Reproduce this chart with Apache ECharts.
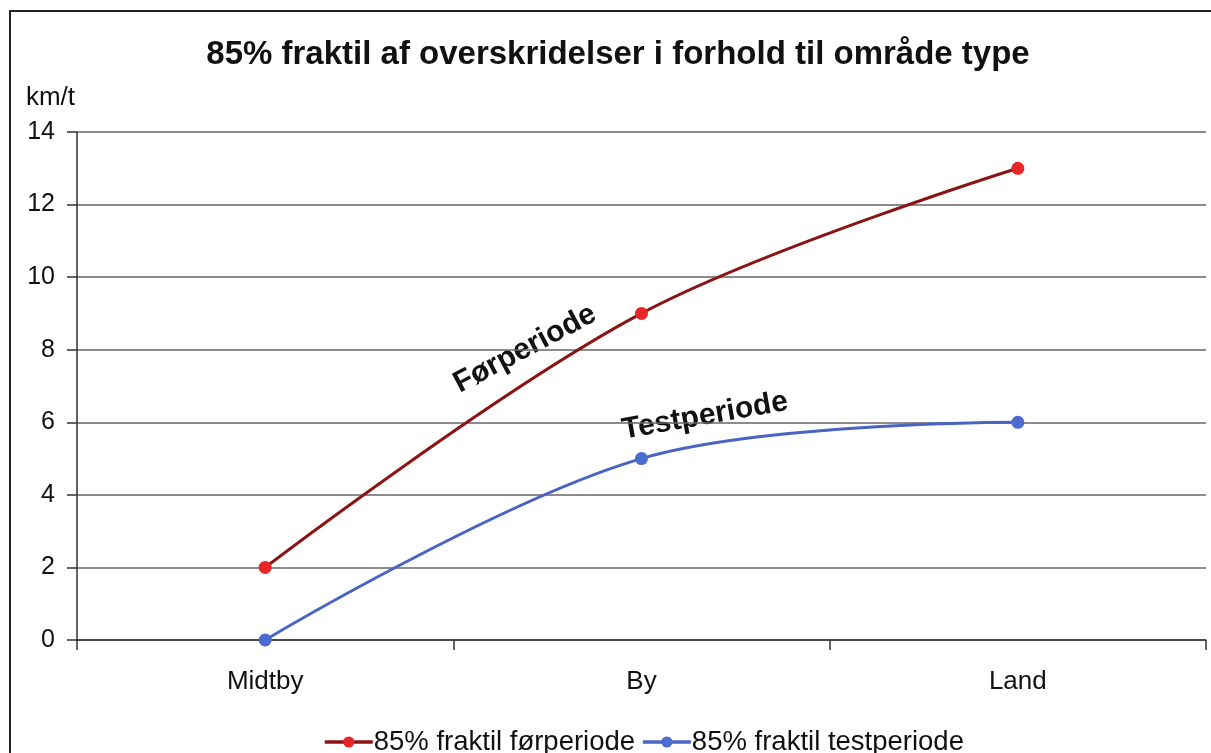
<!DOCTYPE html>
<html>
<head>
<meta charset="utf-8">
<script src="https://cdn.jsdelivr.net/npm/echarts@6/dist/echarts.min.js"></script>
<style>
html,body{margin:0;padding:0;background:#fff;}
#chart{width:1211px;height:753px;}
</style>
</head>
<body>
<div id="chart"></div>
<script>
const categories = ['Midtby', 'By', 'Land'];
const forperiode = [2, 9, 13];
const testperiode = [0, 5, 6];
const seriesNames = ['85% fraktil førperiode', '85% fraktil testperiode'];
const yTicks = { min: 0, max: 14, interval: 2 };

const font = '"Liberation Sans", Arial, sans-serif';
const redLine = '#8a1414', redDot = '#e8262a';
const blueLine = '#4a64c4', blueDot = '#4a6bd0';
const chart = echarts.init(document.getElementById('chart'));
chart.setOption({
  backgroundColor: '#ffffff',
  animation: false,
  title: {
    text: '85% fraktil af overskridelser i forhold til område type',
    left: 613, top: 33, textAlign: 'center',
    textStyle: { fontFamily: font, fontSize: 33, fontWeight: 'bold', color: '#111' }
  },
  grid: { left: 77, right: 5, top: 132, bottom: 113 },
  legend: {
    top: 723, left: 318, itemWidth: 48, itemHeight: 14, itemGap: 6,
    textStyle: { fontFamily: font, fontSize: 27.5, color: '#111', padding: [0, 0, 0, -4] },
    data: [
      { name: seriesNames[0], lineStyle: { width: 3.5, color: redLine }, itemStyle: { color: redDot } },
      { name: seriesNames[1], lineStyle: { width: 3.5, color: blueLine }, itemStyle: { color: blueDot } }
    ]
  },
  xAxis: {
    type: 'category', data: categories, boundaryGap: true,
    axisLine: { lineStyle: { color: '#333', width: 1.5 } },
    axisTick: { show: true, length: 10, lineStyle: { color: '#333', width: 1.5 } },
    axisLabel: { fontFamily: font, fontSize: 26, color: '#111', margin: 29 }
  },
  yAxis: {
    type: 'value', min: yTicks.min, max: yTicks.max, interval: yTicks.interval,
    name: 'km/t', nameLocation: 'end', nameGap: 34,
    nameTextStyle: { fontFamily: font, fontSize: 26, color: '#111', align: 'right', verticalAlign: 'middle', padding: [0, 2, 0, 0] },
    axisLine: { show: true, lineStyle: { color: '#333', width: 1.5 } },
    axisTick: { show: true, length: 10, lineStyle: { color: '#333', width: 1.5 } },
    axisLabel: { fontFamily: font, fontSize: 25, color: '#111', margin: 22 },
    splitLine: { lineStyle: { color: '#666', width: 1.5 } }
  },
  series: [
    {
      name: seriesNames[0], type: 'line', data: forperiode, smooth: 0.35,
      symbol: 'circle', symbolSize: 13,
      lineStyle: { color: redLine, width: 3 },
      itemStyle: { color: redDot }
    },
    {
      name: seriesNames[1], type: 'line', data: testperiode, smooth: 0.35,
      symbol: 'circle', symbolSize: 13,
      lineStyle: { color: blueLine, width: 3 },
      itemStyle: { color: blueDot }
    }
  ],
  graphic: [
    {
      type: 'rect', shape: { x: 10, y: 11, width: 1300, height: 800 },
      style: { fill: 'none', stroke: '#222', lineWidth: 2 }, z: 100, silent: true
    },
    {
      type: 'text', x: 525, y: 349, rotation: 28 * Math.PI / 180,
      style: { text: 'Førperiode', font: 'bold 30px ' + font, fill: '#111', textAlign: 'center', textVerticalAlign: 'middle' }
    },
    {
      type: 'text', x: 705, y: 416, rotation: 10 * Math.PI / 180,
      style: { text: 'Testperiode', font: 'bold 30px ' + font, fill: '#111', textAlign: 'center', textVerticalAlign: 'middle' }
    }
  ]
});
</script>
</body>
</html>
